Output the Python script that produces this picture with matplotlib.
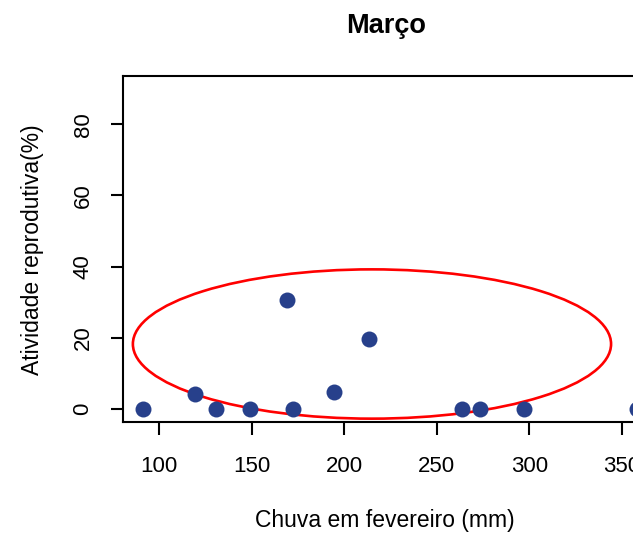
import matplotlib
matplotlib.use("Agg")
import matplotlib.pyplot as plt
from matplotlib.patches import Ellipse

plt.rcParams['font.family'] = ['Liberation Sans', 'DejaVu Sans']

chuva = [91, 119.3, 130.6, 149, 168.9, 172.1, 194.3, 213.1, 263.3, 273.3, 296.9, 358]
atividade = [0, 4.1, 0, 0, 30.7, 0, 4.8, 19.7, 0, 0, 0, 0]
xticks = [100, 150, 200, 250, 300, 350]
yticks = [0, 20, 40, 60, 80]
ellipse_center = (214.9, 18.2)
ellipse_size = (258.4, 42.0)

W, H = 633, 533
L, R, B, T = 122.7, 659.0, 421.5, 76.0
fig = plt.figure(figsize=(W/100, H/100), dpi=100)
ax = fig.add_axes([L/W, (H-B)/H, (R-L)/W, (B-T)/H])

ax.plot(chuva, atividade, 'o', color='#27408B', markersize=11.5, markeredgewidth=0, zorder=3)
ax.add_patch(Ellipse(ellipse_center, ellipse_size[0], ellipse_size[1],
                     fill=False, edgecolor='red', linewidth=1.9, zorder=2))

ax.set_xlim(80.2, 370)
ax.set_ylim(-3.6, 93.6)
ax.set_xticks(xticks)
ax.set_yticks(yticks)
ax.set_xticklabels([str(t) for t in xticks], fontsize=16)
ax.set_yticklabels([str(t) for t in yticks], fontsize=16, rotation=90, va='center')
for s in ax.spines.values():
    s.set_linewidth(1.5)
ax.tick_params(axis='both', length=9, width=1.5, direction='out')
ax.tick_params(axis='x', pad=15.5)
ax.tick_params(axis='y', pad=12)

fig.text(386/W, 1-33/H, 'Março', fontsize=19.5, fontweight='bold', ha='center', va='baseline')
fig.text(385/W, 1-527/H, 'Chuva em fevereiro (mm)', fontsize=16.5, ha='center', va='baseline')
fig.text(32.5/W, 1-250/H, 'Atividade reprodutiva(%)', fontsize=16.5, ha='center', va='center',
         rotation=90, rotation_mode='anchor')

fig.savefig('out.png', dpi=100)
